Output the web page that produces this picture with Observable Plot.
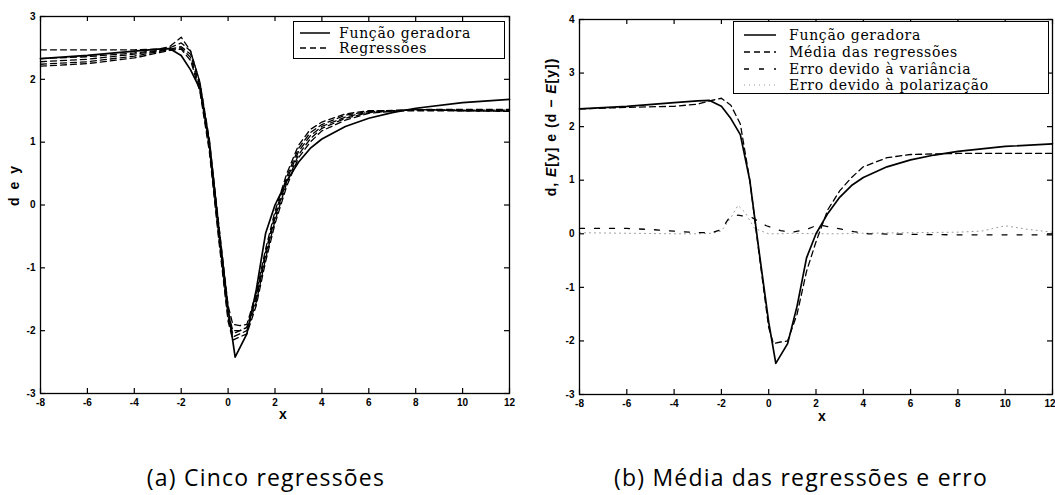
<!DOCTYPE html>
<html>
<head>
<meta charset="utf-8">
<script src="https://cdn.jsdelivr.net/npm/d3@7"></script>
<script src="https://cdn.jsdelivr.net/npm/@observablehq/plot@0.6"></script>
<style>
  html, body { margin: 0; padding: 0; background: #fff; }
  #wrap { position: relative; width: 1055px; height: 495px; overflow: hidden; background: #fff; }
  #wrap svg { position: absolute; top: 0; }
  .abs { position: absolute; white-space: nowrap; color: #000; }
  .legend { position: absolute; border: 1.3px solid #000; background: #fff; box-sizing: border-box; }
  .lrow { position: absolute; left: 0; height: 16px; display: flex; align-items: center; }
  .ltext { font-family: "DejaVu Serif", serif; font-size: 14px; letter-spacing: 0.7px; line-height: 16px; }
  .cap { font-family: "Open Sans", sans-serif; font-size: 23px; letter-spacing: 1.2px; line-height: 30px; }
  .axlab { font-family: "Liberation Sans", sans-serif; font-weight: bold; font-size: 14px; }
</style>
</head>
<body>
<div id="wrap"></div>
<script>
// ---------- data ----------
const xTicks = [-8, -6, -4, -2, 0, 2, 4, 6, 8, 10, 12];
const yTicksA = [-3, -2, -1, 0, 1, 2, 3];
const yTicksB = [-3, -2, -1, 0, 1, 2, 3, 4];

// generating function (Função geradora)
const genX = [-8, -6, -4, -3, -2.5, -2, -1.6, -1.2, -0.8, -0.4, 0, 0.3, 0.8, 1.2, 1.6, 2, 2.5, 3, 3.5, 4, 5, 6, 7, 8, 10, 12];
const genY = [2.33, 2.38, 2.45, 2.48, 2.49, 2.38, 2.15, 1.85, 1.0, -0.35, -1.65, -2.42, -2.05, -1.35, -0.45, 0.0, 0.38, 0.68, 0.9, 1.05, 1.25, 1.38, 1.47, 1.54, 1.63, 1.68];

// five regressions (panel a)
const regX = [-8, -6, -4, -3, -2.5, -2, -1.6, -1.2, -0.8, -0.4, 0, 0.2, 0.5, 0.8, 1.2, 1.6, 2, 2.5, 3, 3.5, 4, 5, 6, 8, 10, 12];
const reg1 = [2.47, 2.47, 2.47, 2.48, 2.52, 2.67, 2.45, 1.95, 1.05, -0.3, -1.6, -1.9, -1.92, -1.9, -1.4, -0.7, -0.1, 0.5, 0.95, 1.2, 1.32, 1.45, 1.5, 1.5, 1.5, 1.5];
const reg2 = [2.33, 2.36, 2.42, 2.46, 2.5, 2.58, 2.45, 1.95, 1.0, -0.4, -1.7, -2.0, -2.0, -1.95, -1.45, -0.75, -0.15, 0.45, 0.9, 1.15, 1.28, 1.43, 1.49, 1.52, 1.52, 1.52];
const reg3 = [2.28, 2.32, 2.4, 2.45, 2.48, 2.52, 2.4, 1.9, 0.95, -0.45, -1.75, -2.05, -2.0, -1.95, -1.5, -0.8, -0.2, 0.4, 0.85, 1.1, 1.25, 1.4, 1.48, 1.52, 1.51, 1.51];
const reg4 = [2.24, 2.28, 2.37, 2.44, 2.47, 2.5, 2.35, 1.85, 0.9, -0.5, -1.8, -2.1, -2.05, -2.0, -1.55, -0.85, -0.25, 0.35, 0.8, 1.05, 1.22, 1.38, 1.47, 1.52, 1.5, 1.5];
const reg5 = [2.21, 2.25, 2.34, 2.42, 2.46, 2.48, 2.3, 1.8, 0.85, -0.55, -1.85, -2.15, -2.1, -2.05, -1.6, -0.9, -0.3, 0.3, 0.75, 1.0, 1.18, 1.35, 1.46, 1.52, 1.5, 1.49];

// mean of regressions (panel b)
const meanY = [2.33, 2.36, 2.38, 2.42, 2.48, 2.53, 2.4, 2.05, 1.0, -0.4, -1.75, -2.05, -2.02, -2.0, -1.5, -0.7, -0.15, 0.45, 0.8, 1.05, 1.25, 1.42, 1.48, 1.5, 1.5, 1.5];

// error due to variance
const varX = [-8, -6, -5, -4, -3, -2.4, -2, -1.7, -1.3, -0.7, -0.1, 0.5, 1.0, 1.6, 2.1, 2.9, 3.6, 4.2, 6, 8, 10, 12];
const varY = [0.1, 0.1, 0.08, 0.05, 0.02, 0.02, 0.08, 0.28, 0.35, 0.3, 0.15, 0.06, 0.03, 0.08, 0.17, 0.1, 0.04, 0.0, -0.01, -0.02, -0.02, -0.02];

// error due to bias
const biasX = [-8, -6, -4, -3, -2.4, -2, -1.6, -1.3, -1, -0.6, 0, 0.5, 1, 2, 3, 4, 6, 8, 9, 10, 11, 12];
const biasY = [0.02, 0.01, 0.0, 0.0, 0.01, 0.05, 0.3, 0.53, 0.4, 0.1, 0.0, 0.0, 0.01, 0.0, 0.0, 0.01, 0.02, 0.03, 0.05, 0.15, 0.08, 0.03];

// ---------- helpers ----------
const zip = (xs, ys) => xs.map((x, i) => ({x, y: ys[i]}));
const fmt = d => String(d);

function frameMarks(innerW, innerH, yTicks, lastEnd) {
  const xMain = lastEnd ? xTicks.slice(0, -1) : xTicks;
  const marks = [
    Plot.frame({stroke: "#000", strokeWidth: 1.3}),
    Plot.tickX(xTicks, {x: d => d, insetTop: innerH - 5, stroke: "#000", strokeWidth: 1.2}),
    Plot.tickX(xTicks, {x: d => d, insetBottom: innerH - 5, stroke: "#000", strokeWidth: 1.2}),
    Plot.tickY(yTicks, {y: d => d, insetRight: innerW - 5, stroke: "#000", strokeWidth: 1.2}),
    Plot.tickY(yTicks, {y: d => d, insetLeft: innerW - 5, stroke: "#000", strokeWidth: 1.2}),
    Plot.axisX({ticks: xMain, tickSize: 0, tickPadding: 5, tickFormat: fmt, label: null}),
    Plot.axisY({ticks: yTicks, tickSize: 0, tickPadding: 5, tickFormat: fmt, label: null})
  ];
  if (lastEnd) {
    marks.push(Plot.axisX({ticks: xTicks.slice(-1), tickSize: 0, tickPadding: 5, tickFormat: fmt, label: null, textAnchor: "end", dx: 3}));
  }
  return marks;
}

const baseStyle = {fontFamily: "Liberation Sans, sans-serif", fontSize: "10px", fontWeight: "bold", background: "transparent", color: "#000", overflow: "visible"};

// ---------- panel a ----------
const A = {w: 530, h: 420, ml: 40, mr: 21, mt: 16, mb: 27};
const chartA = Plot.plot({
  width: A.w, height: A.h,
  marginLeft: A.ml, marginRight: A.mr, marginTop: A.mt, marginBottom: A.mb,
  style: baseStyle,
  x: {domain: [-8, 12]},
  y: {domain: [-3, 3]},
  marks: [
    ...[reg1, reg2, reg3, reg4, reg5].map(r =>
      Plot.line(zip(regX, r), {x: "x", y: "y", stroke: "#000", strokeWidth: 1.3, strokeDasharray: "6,4"})),
    Plot.line(zip(genX, genY), {x: "x", y: "y", stroke: "#000", strokeWidth: 1.7}),
    ...frameMarks(A.w - A.ml - A.mr, A.h - A.mt - A.mb, yTicksA, false)
  ]
});
chartA.style.left = "0px";

// ---------- panel b ----------
const B = {w: 525, h: 420, ml: 49, mr: 3, mt: 19, mb: 26};
const chartB = Plot.plot({
  width: B.w, height: B.h,
  marginLeft: B.ml, marginRight: B.mr, marginTop: B.mt, marginBottom: B.mb,
  style: baseStyle,
  x: {domain: [-8, 12]},
  y: {domain: [-3, 4]},
  marks: [
    Plot.line(zip(biasX, biasY), {x: "x", y: "y", stroke: "#999", strokeWidth: 1, strokeDasharray: "1,4"}),
    Plot.line(zip(varX, varY), {x: "x", y: "y", stroke: "#000", strokeWidth: 1.3, strokeDasharray: "5,10"}),
    Plot.line(zip(regX, meanY), {x: "x", y: "y", stroke: "#000", strokeWidth: 1.3, strokeDasharray: "6,4"}),
    Plot.line(zip(genX, genY), {x: "x", y: "y", stroke: "#000", strokeWidth: 1.7}),
    ...frameMarks(B.w - B.ml - B.mr, B.h - B.mt - B.mb, yTicksB, true)
  ]
});
chartB.style.left = "530px";

const wrap = document.getElementById("wrap");
wrap.appendChild(chartA);
wrap.appendChild(chartB);

// ---------- decorations (labels, legends, captions) ----------
function add(html, css, cls) {
  const d = document.createElement("div");
  d.className = cls || "abs";
  d.innerHTML = html;
  Object.assign(d.style, css);
  wrap.appendChild(d);
  return d;
}

// axis titles
add("x", {left: "279px", top: "406px"}, "abs axlab");
add("x", {left: "818px", top: "408px"}, "abs axlab");
add("d e y", {left: "14px", top: "185px", letterSpacing: "2px", transform: "translate(-50%,-50%) rotate(-90deg)"}, "abs axlab");
add('d, <i>E</i>[y] e (d − <i>E</i>[y])', {left: "551px", top: "127px", letterSpacing: "1px", transform: "translate(-50%,-50%) rotate(-90deg)"}, "abs axlab");

// legends
function legend(x, y, w, h, rows) {
  const box = add("", {left: x + "px", top: y + "px", width: w + "px", height: h + "px"}, "legend");
  rows.forEach((r, i) => {
    const row = document.createElement("div");
    row.className = "lrow";
    row.style.top = (r.top) + "px";
    row.innerHTML =
      `<svg width="${r.sw}" height="16" style="position:static;margin-left:${r.sl}px"><line x1="0" x2="${r.sw}" y1="8" y2="8" stroke="${r.color}" stroke-width="${r.width}" stroke-dasharray="${r.dash}"/></svg>` +
      `<span class="ltext" style="margin-left:${r.gap}px">${r.label}</span>`;
    box.appendChild(row);
  });
}
legend(293, 21, 212, 38, [
  {label: "Função geradora", top: 3, sl: 6, sw: 30, gap: 9, color: "#000", width: 1.5, dash: "none"},
  {label: "Regressões", top: 18, sl: 6, sw: 30, gap: 9, color: "#000", width: 1.3, dash: "6,4"}
]);
legend(733, 21, 316, 73, [
  {label: "Função geradora", top: 5, sl: 10, sw: 32, gap: 13, color: "#000", width: 1.5, dash: "none"},
  {label: "Média das regressões", top: 22, sl: 10, sw: 32, gap: 13, color: "#000", width: 1.3, dash: "6,4"},
  {label: "Erro devido à variância", top: 39, sl: 10, sw: 32, gap: 13, color: "#000", width: 1.3, dash: "5,10"},
  {label: "Erro devido à polarização", top: 55, sl: 10, sw: 32, gap: 13, color: "#999", width: 1, dash: "1,4"}
]);

// captions
add("(a) Cinco regressões", {left: "266px", top: "462px", transform: "translateX(-50%)"}, "abs cap");
add("(b) Média das regressões e erro", {left: "801px", top: "462px", transform: "translateX(-50%)"}, "abs cap");
</script>
</body>
</html>
